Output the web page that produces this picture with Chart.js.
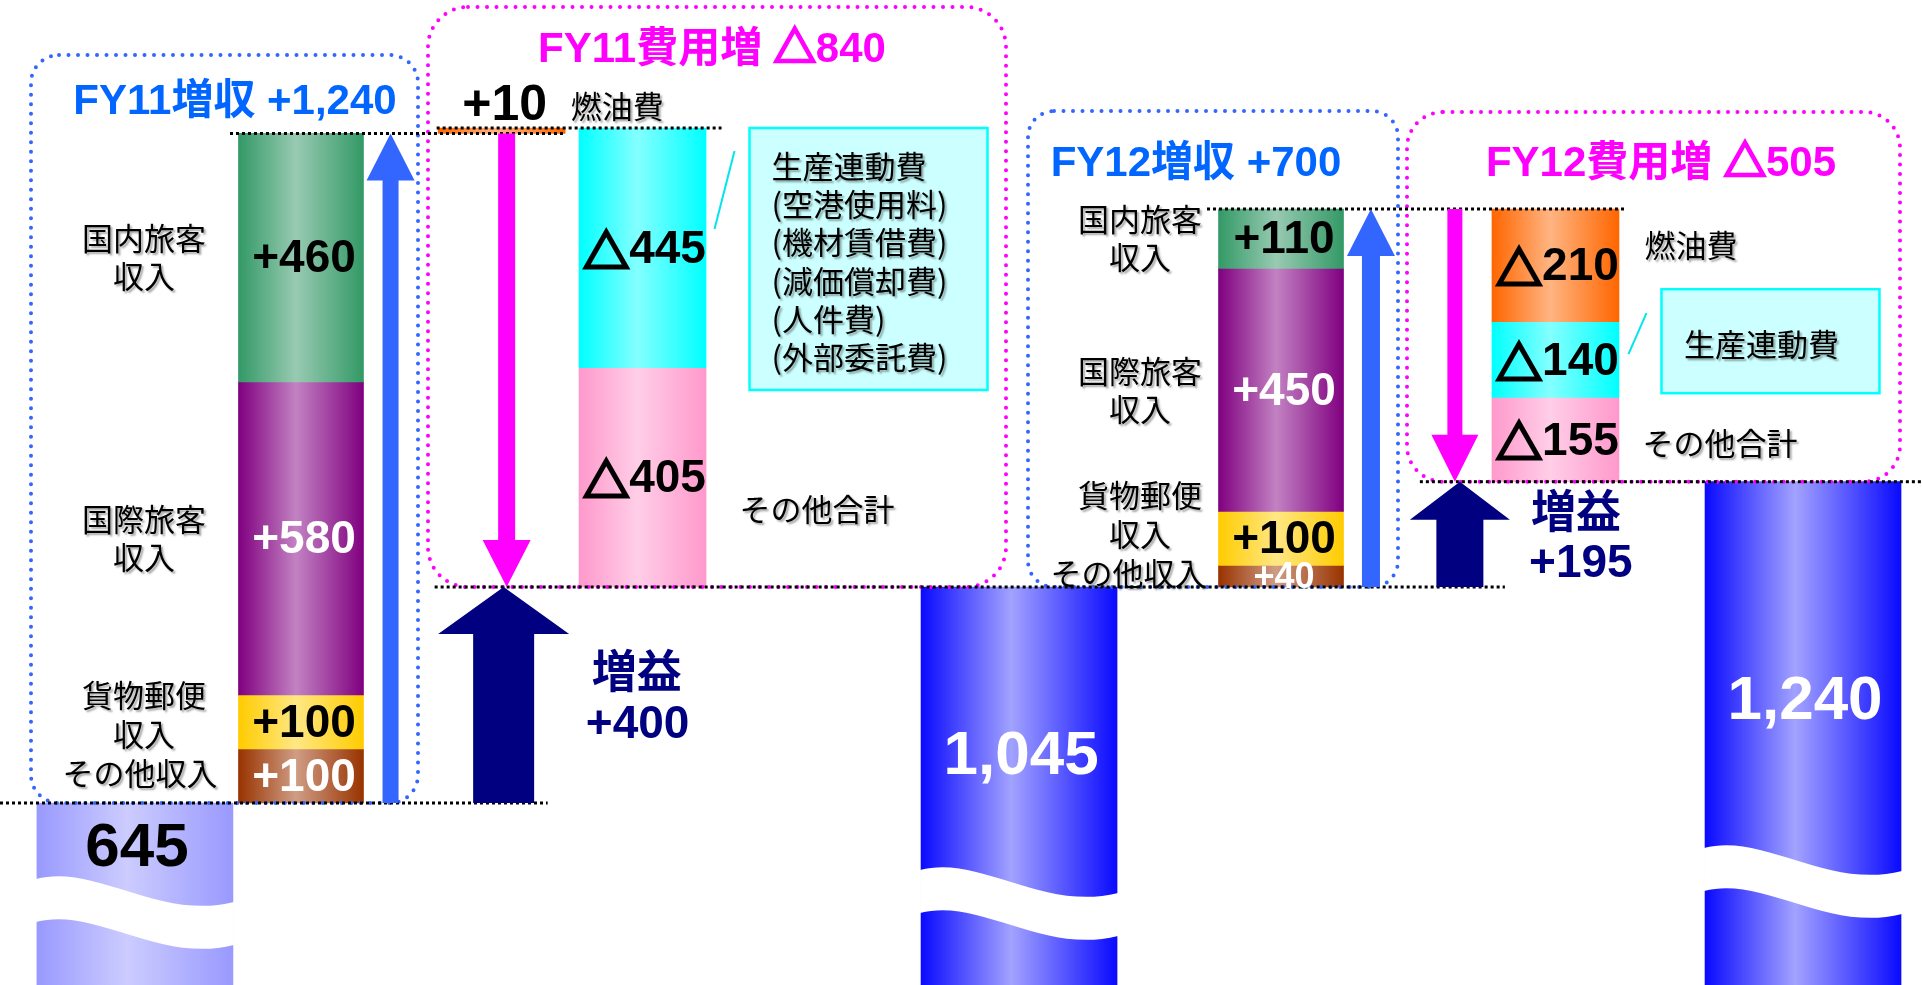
<!DOCTYPE html>
<html lang="ja">
<head>
<meta charset="utf-8">
<title>FY11・FY12 営業利益の増減</title>
<script src="https://cdn.jsdelivr.net/npm/chart.js@4/dist/chart.umd.min.js"></script>
<style>
  html, body { margin: 0; padding: 0; background: #fff; }
  #wrap { width: 1922px; height: 985px; position: relative; }
</style>
</head>
<body>
<div id="wrap"><canvas id="bridge"></canvas></div>
<script>
// 営業利益（億円）
const openingProfit = 645;

// 収入の増加（下から積む順）
const revenueItems = ['その他収入', '貨物郵便\n収入', '国際旅客\n収入', '国内旅客\n収入'];
const fy11Revenue = [100, 100, 580, 460];
const fy12Revenue = [40, 100, 450, 110];

// 費用の増減（+ は費用減、− は費用増）
const costItems = ['燃油費', '生産連動費', 'その他合計'];
const fy11Costs = [10, -445, -405];
const fy12Costs = [-210, -140, -155];

const prodCostDetail = ['生産連動費', '(空港使用料)', '(機材賃借費)', '(減価償却費)', '(人件費)', '(外部委託費)'];

// ---- layout ----
const Y_MIN = 308, Y_MAX = 2132;          // 縦軸（下は波線で省略）
const col = {                               // 横位置（0–100）
  base0: 7.02, rev11: 15.66, up11: 20.32, gain11: 26.1, cost11: 33.43,
  base1: 53.02, rev12: 66.65, up12: 71.33, gain12: 75.8, cost12: 80.93, base2: 93.81
};
const waveTop = [879, 870, 848];
const NUM = '"Liberation Sans", "Noto Sans CJK JP", sans-serif';
const JP = '"Noto Sans CJK JP", sans-serif';

const revShades = [['#993300', '#cf9d85'], ['#ffcc00', '#ffe784'], ['#800080', '#c282c2'], ['#339966', '#98cab2']];
const revInk = ['#fff', '#000', '#fff', '#000'];
const costShades = [['#ff6600', '#ffb482'], ['#00ffff', '#84ffff'], ['#ff99cc', '#ffcee7']];
const baseShades = [['#9999ff', '#ccccff'], ['#0a0aff', '#a2a2ff'], ['#0a0aff', '#a2a2ff']];

const sum = a => a.reduce((s, v) => s + v, 0);
const fmt = v => (v < 0 ? '△' : '+') + Math.abs(v).toLocaleString('en-US');

const fy11RevTotal = sum(fy11Revenue);
const fy11CostTotal = sum(fy11Costs);
const fy12RevTotal = sum(fy12Revenue);
const fy12CostTotal = sum(fy12Costs);
const fy11Top = openingProfit + fy11RevTotal;
const fy11Profit = fy11Top + fy11CostTotal;
const fy12Top = fy11Profit + fy12RevTotal;
const fy12Profit = fy12Top + fy12CostTotal;

// 積み上げ：各項目を前の水準から浮かせた棒にする
function steps(start, values, colFor) {
  let level = start;
  return values.map((v, i) => {
    const from = level;
    level += v;
    return { x: colFor(v), y: [from, level], value: v, item: i };
  });
}

const baseBars = [
  { x: col.base0, y: [Y_MIN, openingProfit] },
  { x: col.base1, y: [Y_MIN, fy11Profit] },
  { x: col.base2, y: [Y_MIN, fy12Profit] }
];
const revenueBars = steps(openingProfit, fy11Revenue, () => col.rev11)
  .concat(steps(fy11Profit, fy12Revenue, () => col.rev12));
const costBars = steps(fy11Top, fy11Costs, v => v > 0 ? col.gain11 : col.cost11)
  .concat(steps(fy12Top, fy12Costs, v => v > 0 ? col.gain12 : col.cost12));

function shade(ctx, pair) {
  const chart = ctx.chart;
  if (ctx.type !== 'data' || !chart.chartArea) return pair[0];
  const cx = chart.scales.x.getPixelForValue(ctx.raw.x);
  const half = ctx.dataset.barThickness / 2;
  const g = chart.ctx.createLinearGradient(cx - half, 0, cx + half, 0);
  g.addColorStop(0, pair[0]);
  g.addColorStop(0.46, pair[1]);
  g.addColorStop(1, pair[0]);
  return g;
}

// ---- drawing helpers ----
function label(c, str, x, y, font, color, align, shadow) {
  c.save();
  c.font = font;
  c.fillStyle = color;
  c.textAlign = align || 'center';
  c.textBaseline = 'middle';
  if (shadow) {
    c.shadowColor = 'rgba(0,0,0,0.35)';
    c.shadowOffsetX = 2;
    c.shadowOffsetY = 2;
    c.shadowBlur = 2;
  }
  c.fillText(str, x, y);
  c.restore();
}

// 数字は Liberation Sans、△ と漢字はゴシック（△ は線を太らせる）
function mixed(c, str, x, y, size, color, baseline) {
  const runs = [];
  for (const ch of str) {
    const jp = ch.charCodeAt(0) > 0x2000;
    const font = jp ? 'bold ' + size + 'px ' + JP : 'bold ' + size + 'px ' + NUM;
    const last = runs[runs.length - 1];
    if (last && last.font === font && ch !== '△' && last.s !== '△') last.s += ch;
    else runs.push({ s: ch, font: font });
  }
  c.save();
  c.fillStyle = color;
  c.strokeStyle = color;
  c.lineWidth = size * 0.065;
  c.lineJoin = 'miter';
  c.textBaseline = baseline || 'middle';
  c.textAlign = 'left';
  let total = 0;
  runs.forEach(r => { c.font = r.font; r.w = c.measureText(r.s).width; total += r.w; });
  let cx = x - total / 2;
  runs.forEach(r => {
    c.font = r.font;
    c.fillText(r.s, cx, y);
    if (r.s === '△') c.strokeText(r.s, cx, y);
    cx += r.w;
  });
  c.restore();
}

function dottedBox(c, l, t, r, b, rad, color) {
  c.save();
  c.beginPath();
  c.moveTo(l + rad, t);
  c.arcTo(r, t, r, b, rad);
  c.arcTo(r, b, l, b, rad);
  c.arcTo(l, b, l, t, rad);
  c.arcTo(l, t, r, t, rad);
  c.closePath();
  c.setLineDash([0, 9.5]);
  c.lineCap = 'round';
  c.lineWidth = 4;
  c.strokeStyle = color;
  c.stroke();
  c.restore();
}

function dotLine(c, x0, x1, y) {
  c.save();
  c.beginPath();
  c.moveTo(x0, y);
  c.lineTo(x1, y);
  c.setLineDash([3, 3]);
  c.lineWidth = 3;
  c.strokeStyle = '#000';
  c.stroke();
  c.restore();
}

function arrow(c, x, yFrom, yTo, shaft, headW, headH, color) {
  const dir = yTo < yFrom ? -1 : 1;
  const neck = yTo - dir * headH;
  c.beginPath();
  c.moveTo(x - shaft / 2, yFrom);
  c.lineTo(x - shaft / 2, neck);
  c.lineTo(x - headW / 2, neck);
  c.lineTo(x, yTo);
  c.lineTo(x + headW / 2, neck);
  c.lineTo(x + shaft / 2, neck);
  c.lineTo(x + shaft / 2, yFrom);
  c.closePath();
  c.fillStyle = color;
  c.fill();
}

function waveBreak(c, l, r, top) {
  const w = r - l, drop = 23, band = 43;
  c.beginPath();
  c.moveTo(l, top);
  c.bezierCurveTo(l + 0.3 * w, top - 16, l + 0.62 * w, top + 42, r, top + drop);
  c.lineTo(r, top + drop + band);
  c.bezierCurveTo(l + 0.62 * w, top + 42 + band, l + 0.3 * w, top - 16 + band, l, top + band);
  c.closePath();
  c.fillStyle = '#fff';
  c.fill();
}

function infoBox(c, l, t, w, h) {
  c.save();
  c.fillStyle = '#ccffff';
  c.fillRect(l, t, w, h);
  c.lineWidth = 2.5;
  c.strokeStyle = '#00ffff';
  c.strokeRect(l, t, w, h);
  c.restore();
}

function leader(c, x0, y0, x1, y1) {
  c.save();
  c.beginPath();
  c.moveTo(x0, y0);
  c.lineTo(x1, y1);
  c.lineWidth = 2;
  c.strokeStyle = '#00e5ee';
  c.stroke();
  c.restore();
}

// 収入項目名（柱の左）
function revenueNames(c, els, cx, otherShift) {
  const mids = els.map(el => (el.y + el.base) / 2);
  const otherY = mids[0] - 3;
  const f = '31px ' + JP;
  label(c, revenueItems[0], cx + otherShift, otherY, f, '#000', 'center', true);
  const cargo = revenueItems[1].split('\n');
  label(c, cargo[0], cx, otherY - 78, f, '#000', 'center', true);
  label(c, cargo[1], cx, otherY - 39, f, '#000', 'center', true);
  [2, 3].forEach(k => {
    const lines = revenueItems[k].split('\n');
    label(c, lines[0], cx, mids[k] - 19, f, '#000', 'center', true);
    label(c, lines[1], cx, mids[k] + 19, f, '#000', 'center', true);
  });
}

const bridgeDecor = {
  id: 'bridgeDecor',
  afterDatasetsDraw(chart) {
    const c = chart.ctx;
    const X = v => chart.scales.x.getPixelForValue(v);
    const Y = v => chart.scales.y.getPixelForValue(v);

    // 省略波線と期末利益
    chart.getDatasetMeta(0).data.forEach((el, i) => {
      waveBreak(c, el.x - el.width / 2 - 1, el.x + el.width / 2 + 1, waveTop[i]);
      const top = el.y;
      label(c, baseBars[i].y[1].toLocaleString('en-US'), el.x + 2, top + 0.6 * (waveTop[i] - top),
        'bold 62px ' + NUM, i === 0 ? '#000' : '#fff');
    });

    // 点線の枠
    dottedBox(c, 31, 55, 418, Y(openingProfit), 28, '#3366ff');
    dottedBox(c, 428, 7, 1006, Y(fy11Profit), 40, '#ff00ff');
    dottedBox(c, 1028, 111, 1398, Y(fy11Profit), 26, '#3366ff');
    dottedBox(c, 1407, 112, 1900, Y(fy12Profit), 36, '#ff00ff');

    // 水準線
    dotLine(c, 0, X(col.gain11) + 46, Y(openingProfit));
    dotLine(c, X(col.rev11) - 71, X(col.gain11) + 63, Y(fy11Top));
    dotLine(c, X(col.gain11) - 65, X(col.cost11) + 79, Y(fy11Top + fy11Costs[0]));
    dotLine(c, X(col.gain11) - 67, X(col.gain12) + 48, Y(fy11Profit));
    dotLine(c, X(col.rev12) - 74, X(col.cost12) + 69, Y(fy12Top));
    dotLine(c, X(col.gain12) - 37, 1922, Y(fy12Profit));

    // 矢印
    arrow(c, X(col.up11), Y(openingProfit), Y(fy11Top), 16, 48, 47, '#3366ff');
    arrow(c, X(col.gain11) + 5, Y(fy11Top), Y(fy11Profit), 17, 48, 47, '#ff00ff');
    arrow(c, X(col.gain11) + 2, Y(openingProfit), Y(fy11Profit), 61, 131, 47, '#000080');
    arrow(c, X(col.up12), Y(fy11Profit), Y(fy12Top), 18, 48, 47, '#3366ff');
    arrow(c, X(col.gain12) - 2, Y(fy12Top), Y(fy12Profit), 15, 47, 47, '#ff00ff');
    arrow(c, X(col.gain12) + 3, Y(fy11Profit), Y(fy12Profit), 47, 100, 38, '#000080');

    // 見出し
    mixed(c, 'FY11増収 ' + fmt(fy11RevTotal), 235, 114, 42, '#0066ff', 'alphabetic');
    mixed(c, 'FY11費用増 ' + fmt(fy11CostTotal), 712, 62, 42, '#ff00ff', 'alphabetic');
    mixed(c, 'FY12増収 ' + fmt(fy12RevTotal), 1196, 176, 42, '#0066ff', 'alphabetic');
    mixed(c, 'FY12費用増 ' + fmt(fy12CostTotal), 1661, 176, 42, '#ff00ff', 'alphabetic');

    // 収入の棒ラベル
    const revEls = chart.getDatasetMeta(1).data;
    revEls.forEach((el, i) => {
      const bar = revenueBars[i];
      const mid = (el.y + el.base) / 2;
      const small = Math.abs(el.base - el.y) < 30;
      label(c, fmt(bar.value), el.x + 3, mid + 2, 'bold ' + (small ? 36 : 46) + 'px ' + NUM, revInk[bar.item]);
    });
    revenueNames(c, revEls.slice(0, 4), X(col.rev11) - 157, -4);
    revenueNames(c, revEls.slice(4), X(col.rev12) - 141, -12);

    // 費用の棒ラベル
    const costEls = chart.getDatasetMeta(2).data;
    costEls.forEach((el, i) => {
      const bar = costBars[i];
      const mid = (el.y + el.base) / 2;
      if (bar.value > 0) {
        mixed(c, fmt(bar.value), el.x + 3, el.y - 22, 50, '#000');
      } else {
        mixed(c, fmt(bar.value), el.x + 2, mid + 2, 46, '#000');
      }
    });
    const jp = '31px ' + JP;

    // FY11 費用項目
    const f0 = costEls[0], f1 = costEls[1], f2 = costEls[2];
    label(c, costItems[0], f0.x + 69, f0.y - 22, jp, '#000', 'left', true);
    const b1 = { l: f1.x + 107, t: f1.y, w: 238, h: 262 };
    leader(c, b1.l - 15, b1.t + 23, b1.l - 35, b1.t + 101);
    infoBox(c, b1.l, b1.t, b1.w, b1.h);
    prodCostDetail.forEach((s, k) => label(c, s, b1.l + 22, b1.t + 38 + k * 38.3, jp, '#000', 'left', true));
    label(c, costItems[2], f2.x + 97, (f2.y + f2.base) / 2 + 32, jp, '#000', 'left', true);

    // FY12 費用項目
    const g0 = costEls[3], g1 = costEls[4], g2 = costEls[5];
    label(c, costItems[0], g0.x + 89, (g0.y + g0.base) / 2 - 20, jp, '#000', 'left', true);
    const b2 = { l: g1.x + 106, w: 218, h: 104 };
    b2.t = (g1.y + g1.base) / 2 - 19 - b2.h / 2;
    leader(c, b2.l - 15, b2.t + 24, b2.l - 33, b2.t + 65);
    infoBox(c, b2.l, b2.t, b2.w, b2.h);
    label(c, costItems[1], b2.l + b2.w / 2 - 9, b2.t + b2.h / 2 + 3, jp, '#000', 'center', true);
    label(c, costItems[2], g2.x + 87, (g2.y + g2.base) / 2 + 3, jp, '#000', 'left', true);

    // 増益
    const m11 = (Y(openingProfit) + Y(fy11Profit)) / 2;
    label(c, '増益', X(col.gain11) + 135, m11 - 24, 'bold 45px ' + JP, '#000080');
    label(c, fmt(fy11Profit - openingProfit), X(col.gain11) + 136, m11 + 30, 'bold 46px ' + NUM, '#000080');
    const m12 = (Y(fy11Profit) + Y(fy12Profit)) / 2;
    label(c, '増益', X(col.gain12) + 119, m12 - 23, 'bold 45px ' + JP, '#000080');
    label(c, fmt(fy12Profit - fy11Profit), X(col.gain12) + 124, m12 + 30, 'bold 46px ' + NUM, '#000080');
  }
};

new Chart(document.getElementById('bridge'), {
  type: 'bar',
  data: {
    datasets: [
      {
        label: '営業利益',
        data: baseBars,
        barThickness: 196,
        backgroundColor: ctx => shade(ctx, baseShades[ctx.dataIndex] || baseShades[1])
      },
      {
        label: '増収',
        data: revenueBars,
        barThickness: 125,
        backgroundColor: ctx => shade(ctx, ctx.raw ? revShades[ctx.raw.item] : revShades[0])
      },
      {
        label: '費用',
        data: costBars,
        barThickness: 127,
        backgroundColor: ctx => shade(ctx, ctx.raw ? costShades[ctx.raw.item] : costShades[0])
      }
    ]
  },
  options: {
    responsive: true,
    maintainAspectRatio: false,
    animation: false,
    layout: { padding: 0 },
    datasets: { bar: { grouped: false, borderWidth: 0 } },
    plugins: { legend: { display: false }, tooltip: { enabled: false } },
    scales: {
      x: { type: 'linear', min: 0, max: 100, offset: false, display: false },
      y: { type: 'linear', min: Y_MIN, max: Y_MAX, beginAtZero: false, display: false }
    }
  },
  plugins: [bridgeDecor]
});
</script>
</body>
</html>
